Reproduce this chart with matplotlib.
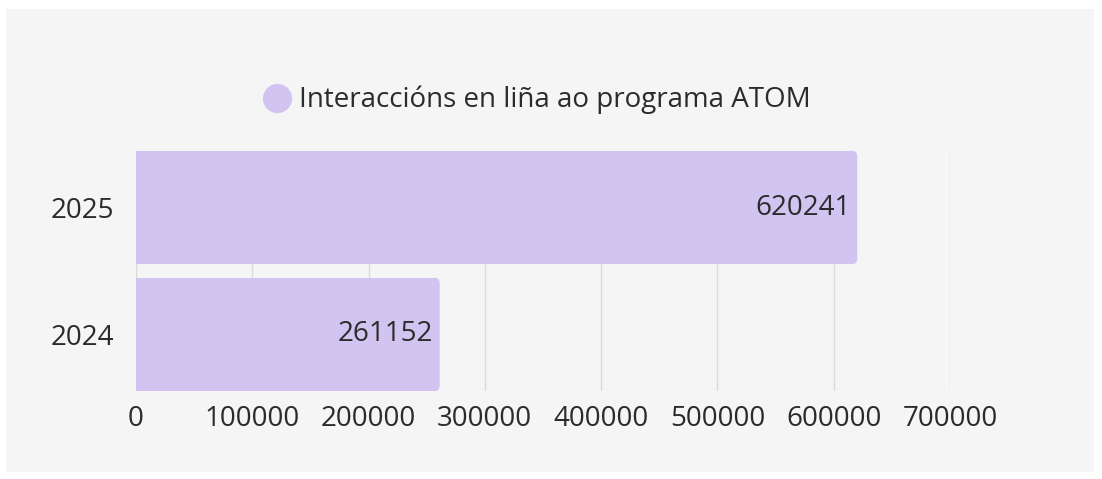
import matplotlib.pyplot as plt
from matplotlib.patches import Rectangle, FancyBboxPatch
from matplotlib.lines import Line2D

# データ
years = ["2024", "2025"]
interactions = [261152, 620241]
series_label = "Interaccións en liña ao programa ATOM"
x_ticks = [0, 100000, 200000, 300000, 400000, 500000, 600000, 700000]

bar_color = "#d1c4f1"
panel_color = "#f5f5f5"
text_color = "#2b2b2b"

plt.rcParams['font.family'] = ['Open Sans', 'DejaVu Sans']

W, H = 1102, 479
fs = 20
fig = plt.figure(figsize=(W / 100, H / 100), dpi=100, facecolor="white")

# 背景パネル
fig.patches.append(Rectangle((6 / W, 1 - 472 / H), (1094 - 6) / W, (472 - 9) / H,
                             transform=fig.transFigure, facecolor=panel_color,
                             edgecolor="none", zorder=-10))

ax_left, ax_right, ax_top, ax_bottom = 136, 950, 151, 391
ax = fig.add_axes([ax_left / W, 1 - ax_bottom / H, (ax_right - ax_left) / W, (ax_bottom - ax_top) / H])
ax.set_facecolor("none")

xmax = 700000
ymin, ymax = -0.445, 1.445
bar_h = 0.89
# 1ピクセルあたりのデータ単位
px_x = xmax / (ax_right - ax_left)
px_y = (ymax - ymin) / (ax_bottom - ax_top)
radius = 5 * px_x

ypos = list(range(len(years)))
# 左側は角なし、右端だけ角丸
ax.barh(ypos, [v - radius for v in interactions], height=bar_h, color=bar_color,
        linewidth=0, zorder=2)
for y, v in zip(ypos, interactions):
    ax.add_patch(FancyBboxPatch((0, y - bar_h / 2), v, bar_h,
                                boxstyle=f"round,pad=0,rounding_size={radius}",
                                mutation_aspect=px_y / px_x,
                                facecolor=bar_color, edgecolor="none", zorder=2))

# 値ラベル（バー内右寄せ）
for y, v in zip(ypos, interactions):
    ax.annotate(str(v), xy=(v, y), xytext=(-5, 0), textcoords="offset points",
                ha="right", va="center", fontsize=fs, color=text_color, zorder=3)

ax.set_xlim(0, xmax)
ax.set_ylim(ymin, ymax)
ax.set_xticks(x_ticks)
ax.set_xticklabels([str(t) for t in x_ticks])
ax.set_yticks(ypos)
ax.set_yticklabels(years)
ax.tick_params(axis="both", length=0, labelsize=fs, labelcolor=text_color)
ax.tick_params(axis="y", pad=16)
ax.tick_params(axis="x", pad=10)
ax.grid(axis="x", color="#dadada", linewidth=1, zorder=1)
ax.set_axisbelow(True)
for s in ax.spines.values():
    s.set_visible(False)

# 凡例
handle = Line2D([], [], marker="o", linestyle="none", markersize=21,
                markerfacecolor=bar_color, markeredgecolor="none")
fig.legend([handle], [series_label], loc="center", bbox_to_anchor=(537 / W, 1 - 100 / H),
           frameon=False, fontsize=fs, labelcolor=text_color,
           handletextpad=0.3, handlelength=1.0)

fig.savefig("out.png", dpi=100, facecolor="white")
